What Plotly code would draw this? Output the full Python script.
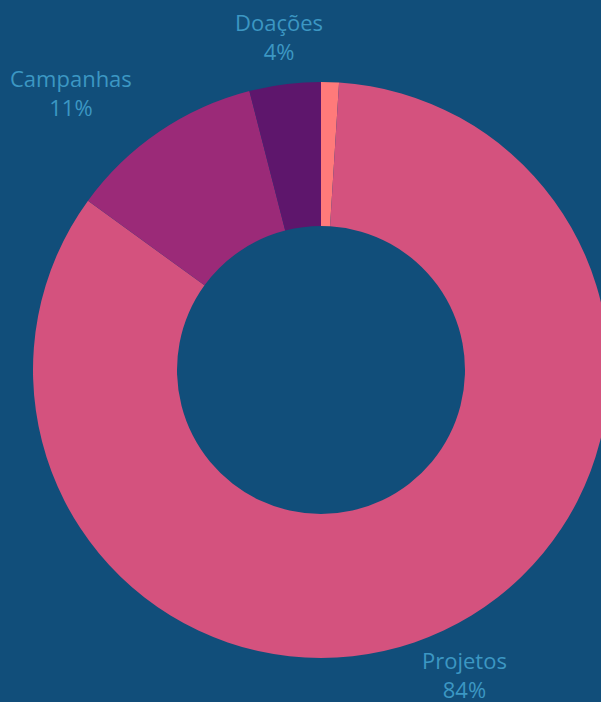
import math
import plotly.graph_objects as go

labels = ["Outros", "Projetos", "Campanhas", "Doações"]
values = [1, 84, 11, 4]
colors = ["#FF7A7A", "#D4527E", "#9B2A78", "#5E166C"]
show_label = [False, True, True, True]

BG = "#114E7A"
TXT = "#3C97C3"

W, H = 610, 702
CX, CY, R = 321, 370, 288     # donut centre / radius in pixels (layout)
LABEL_R = 336                 # label distance from centre (layout)
label_xshift = [0, 0, -61, 0]  # layout nudges per label

fig = go.Figure(go.Pie(
    labels=labels,
    values=values,
    hole=0.5,
    sort=False,
    direction="clockwise",
    rotation=0,
    marker=dict(colors=colors, line=dict(width=0)),
    textinfo="none",
    hoverinfo="label+percent",
    showlegend=False,
    domain=dict(x=[(CX - R) / W, (CX + R) / W], y=[1 - (CY + R) / H, 1 - (CY - R) / H]),
))

total = sum(values)
cum = 0
annotations = []
for lab, v, show, dx in zip(labels, values, show_label, label_xshift):
    mid = (cum + v / 2) / total * 2 * math.pi
    cum += v
    if not show:
        continue
    px = CX + LABEL_R * math.sin(mid)
    py = CY - LABEL_R * math.cos(mid)
    pct = round(v / total * 100)
    annotations.append(dict(
        x=px / W, y=1 - py / H, xref="paper", yref="paper",
        text=f"{lab}<br>{pct}%", showarrow=False,
        xanchor="center", yanchor="middle", xshift=dx,
        font=dict(family="Open Sans", size=22, color=TXT),
    ))

fig.update_layout(
    width=W,
    height=H,
    paper_bgcolor=BG,
    plot_bgcolor=BG,
    margin=dict(l=0, r=0, t=0, b=0),
    annotations=annotations,
    font=dict(family="Open Sans"),
)

fig.write_html(
    "out.html",
    config={"displayModeBar": False},
    post_script="document.body.style.margin='0';document.body.style.overflow='hidden';document.body.style.background='%s';" % BG,
)
